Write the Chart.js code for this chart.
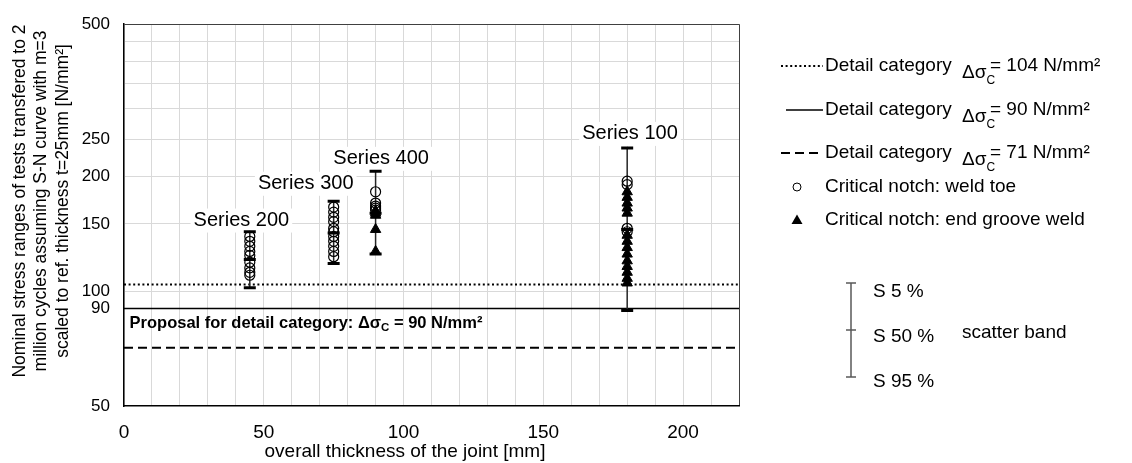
<!DOCTYPE html>
<html>
<head>
<meta charset="utf-8">
<script src="https://cdn.jsdelivr.net/npm/chart.js@4.4.1/dist/chart.umd.min.js"></script>
<style>
  body { margin: 0; background: #fff; }
  #wrap { width: 1132px; height: 463px; position: relative; }
</style>
</head>
<body>
<div id="wrap"><canvas id="chart"></canvas></div>
<script>
const FONT = '"Liberation Sans", Arial, sans-serif';

// test series (x = overall thickness of the joint in mm)
const seriesNames = ['Series 200', 'Series 300', 'Series 400', 'Series 100'];
const seriesX = [45, 75, 90, 180];
// scatter band per series: S 5 %, S 50 %, S 95 %
const s5 = [143, 172, 206, 237];
const s50 = [121, 142, 160, 145];
const s95 = [102, 118, 125, 89];

// critical notch: weld toe (open circles)
const toe200 = [139, 135, 131, 127, 124, 119, 115, 112, 110];
const toe300 = [166, 161, 156, 152, 146, 143, 139, 135, 131, 127, 123];
const toe400 = [182, 170, 167, 165, 163];
const toe100 = [194, 190, 146, 143];
// critical notch: end groove weld (filled triangles)
const groove200 = [];
const groove300 = [];
const groove400 = [162, 160, 158, 145, 127];
const groove100 = [182, 176, 170, 165, 160, 140, 135, 130, 125, 120, 116, 112, 108, 105];

// detail categories (horizontal lines)
const categoryValues = [104, 90, 71];
const proposalValue = 90;

// where the series names sit (data units)
const labelX = [42, 65, 92, 181];
const labelY = [153, 191, 222, 258];

// axes
const xMin = 0, xMax = 220, xStep = 10;
const xLabelEvery = 50;
const yGrid = [50, 90, 100, 150, 200, 250, 300, 350, 400, 450, 500];
const yLabels = [50, 90, 100, 150, 200, 250, 500];

const toeBySeries = [toe200, toe300, toe400, toe100];
const grooveBySeries = [groove200, groove300, groove400, groove100];

function pts(groups) {
  return groups.flatMap((arr, i) => arr.map(v => ({ x: seriesX[i], y: v })));
}

const lineStyles = [
  { dash: [2, 2.6], width: 2 },
  { dash: [], width: 1.5 },
  { dash: [9, 5], width: 2 }
];

const datasets = [];
categoryValues.forEach((v, i) => {
  datasets.push({
    label: 'Detail category ' + v,
    data: [{ x: xMin, y: v }, { x: xMax, y: v }],
    showLine: true,
    pointRadius: 0,
    borderColor: '#000',
    borderWidth: lineStyles[i].width,
    borderDash: lineStyles[i].dash,
    order: 5
  });
});
seriesX.forEach((x, i) => {
  datasets.push({
    label: seriesNames[i] + ' scatter band',
    data: [{ x: x, y: s95[i] }, { x: x, y: s50[i] }, { x: x, y: s5[i] }],
    showLine: true,
    borderColor: '#262626',
    borderWidth: 1.5,
    pointStyle: 'line',
    pointRadius: 6,
    pointBorderWidth: 3,
    pointBorderColor: '#000',
    order: 2
  });
});
datasets.push({
  label: 'Critical notch: weld toe',
  data: pts(toeBySeries),
  pointStyle: 'circle',
  pointRadius: 5,
  pointBorderWidth: 1.2,
  pointBorderColor: '#000',
  pointBackgroundColor: 'rgba(0,0,0,0)',
  order: 1
});
datasets.push({
  label: 'Critical notch: end groove weld',
  data: pts(grooveBySeries),
  pointStyle: 'triangle',
  pointRadius: 6,
  pointBorderWidth: 1,
  pointBorderColor: '#000',
  pointBackgroundColor: '#000',
  order: 0
});

// draws "Δσ" with a subscript C, returns end x
function deltaSigma(ctx, x, y, size, subSize, subDrop, bold) {
  const w = bold ? 'bold ' : '';
  ctx.font = w + size + 'px ' + FONT;
  ctx.fillText('Δσ', x, y);
  const x2 = x + ctx.measureText('Δσ').width;
  ctx.font = w + subSize + 'px ' + FONT;
  ctx.fillText('C', x2, y + subDrop);
  return x2 + ctx.measureText('C').width;
}

const labelsBehind = {
  id: 'labelsBehind',
  beforeDatasetsDraw(chart) {
    const { ctx, scales: { x, y } } = chart;
    ctx.save();
    ctx.font = '20px ' + FONT;
    ctx.textBaseline = 'middle';
    ctx.textAlign = 'center';
    seriesNames.forEach((name, i) => {
      const px = x.getPixelForValue(labelX[i]);
      const py = y.getPixelForValue(labelY[i]);
      const w = ctx.measureText(name).width;
      ctx.fillStyle = '#fff';
      ctx.fillRect(px - w / 2 - 3, py - 12, w + 6, 24);
      ctx.fillStyle = '#000';
      ctx.fillText(name, px, py);
    });
    ctx.restore();
  }
};

const annotations = {
  id: 'annotations',
  afterDraw(chart) {
    const { ctx, scales: { x, y } } = chart;
    ctx.save();
    ctx.fillStyle = '#000';
    ctx.textBaseline = 'middle';
    ctx.textAlign = 'left';

    // proposal text under the 90 line
    const py = y.getPixelForValue(proposalValue) + 15;
    let px = x.getPixelForValue(2);
    ctx.font = 'bold 16.5px ' + FONT;
    ctx.fillText('Proposal for detail category: ', px, py);
    px += ctx.measureText('Proposal for detail category: ').width;
    px = deltaSigma(ctx, px, py, 16.5, 11.5, 4, true);
    ctx.font = 'bold 16.5px ' + FONT;
    ctx.fillText(' = ' + proposalValue + ' N/mm²', px, py);

    // axis titles
    ctx.font = '19px ' + FONT;
    ctx.textAlign = 'center';
    ctx.fillText('overall thickness of the joint [mm]', 405, 452);
    const yTitle = [
      'Nominal stress ranges of tests transfered to 2',
      'million cycles assuming S-N curve with m=3',
      'scaled to ref. thickness t=25mm [N/mm²]'
    ];
    ctx.font = '17.5px ' + FONT;
    yTitle.forEach((t, i) => {
      ctx.save();
      ctx.translate(20 + i * 21.6, 201);
      ctx.rotate(-Math.PI / 2);
      ctx.fillText(t, 0, 0);
      ctx.restore();
    });

    // legend: detail categories
    ctx.textAlign = 'left';
    const rowY = [66, 110, 153];
    categoryValues.forEach((v, i) => {
      const ry = rowY[i];
      ctx.save();
      ctx.strokeStyle = '#000';
      ctx.lineWidth = lineStyles[i].width;
      ctx.setLineDash(lineStyles[i].dash);
      ctx.beginPath();
      ctx.moveTo(i === 1 ? 786 : 781, ry);
      ctx.lineTo(823, ry);
      ctx.stroke();
      ctx.restore();
      ctx.font = '19px ' + FONT;
      ctx.fillText('Detail category', 825, ry);
      deltaSigma(ctx, 962, ry + 7, 19, 12, 8, false);
      ctx.font = '19px ' + FONT;
      ctx.fillText('= ' + v + ' N/mm²', 990, ry);
    });

    // legend: markers
    ctx.font = '19px ' + FONT;
    ctx.strokeStyle = '#000';
    ctx.lineWidth = 1;
    ctx.beginPath();
    ctx.arc(797, 187, 4, 0, Math.PI * 2);
    ctx.stroke();
    ctx.fillText('Critical notch: weld toe', 825, 187);
    ctx.beginPath();
    ctx.moveTo(797, 214.5);
    ctx.lineTo(802.5, 224);
    ctx.lineTo(791.5, 224);
    ctx.closePath();
    ctx.fill();
    ctx.fillText('Critical notch: end groove weld', 825, 220);

    // legend: scatter band
    ctx.strokeStyle = '#595959';
    ctx.lineWidth = 1.5;
    ctx.beginPath();
    ctx.moveTo(851, 283); ctx.lineTo(851, 377);
    [283, 330, 377].forEach(t => { ctx.moveTo(846, t); ctx.lineTo(856, t); });
    ctx.stroke();
    ctx.fillText('S 5 %', 873, 292);
    ctx.fillText('S 50 %', 873, 337);
    ctx.fillText('S 95 %', 873, 382);
    ctx.fillText('scatter band', 962, 333);
    ctx.restore();
  }
};

new Chart(document.getElementById('chart'), {
  type: 'scatter',
  data: { datasets: datasets },
  options: {
    responsive: true,
    maintainAspectRatio: false,
    animation: false,
    events: [],
    layout: { padding: { top: 17, right: 393, left: 0, bottom: 0 } },
    plugins: { legend: { display: false }, tooltip: { enabled: false } },
    scales: {
      x: {
        type: 'linear',
        min: xMin,
        max: xMax,
        afterFit: s => { s.height = 57; },
        ticks: {
          stepSize: xStep,
          autoSkip: false,
          maxRotation: 0,
          padding: 15,
          color: '#000',
          font: { family: FONT, size: 19 },
          callback: v => (v % xLabelEvery === 0 ? String(v) : '')
        },
        grid: {
          drawTicks: false,
          color: c => (c.tick && c.tick.value === xMax ? '#404040' : '#d9d9d9')
        },
        border: { color: '#000', width: 1.5 }
      },
      y: {
        type: 'logarithmic',
        min: 50,
        max: 500,
        afterFit: s => { s.width = 124; },
        afterBuildTicks: s => { s.ticks = yGrid.map(v => ({ value: v })); },
        ticks: {
          autoSkip: false,
          padding: 14,
          color: '#000',
          font: { family: FONT, size: 17 },
          callback: v => (yLabels.includes(v) ? String(v) : '')
        },
        grid: {
          drawTicks: false,
          color: c => {
            const v = c.tick ? c.tick.value : null;
            if (v === 500) return '#404040';
            if (v === 90 || v === 50) return 'rgba(0,0,0,0)';
            return '#d9d9d9';
          }
        },
        border: { color: '#000', width: 1.5 }
      }
    }
  },
  plugins: [labelsBehind, annotations]
});
</script>
</body>
</html>
